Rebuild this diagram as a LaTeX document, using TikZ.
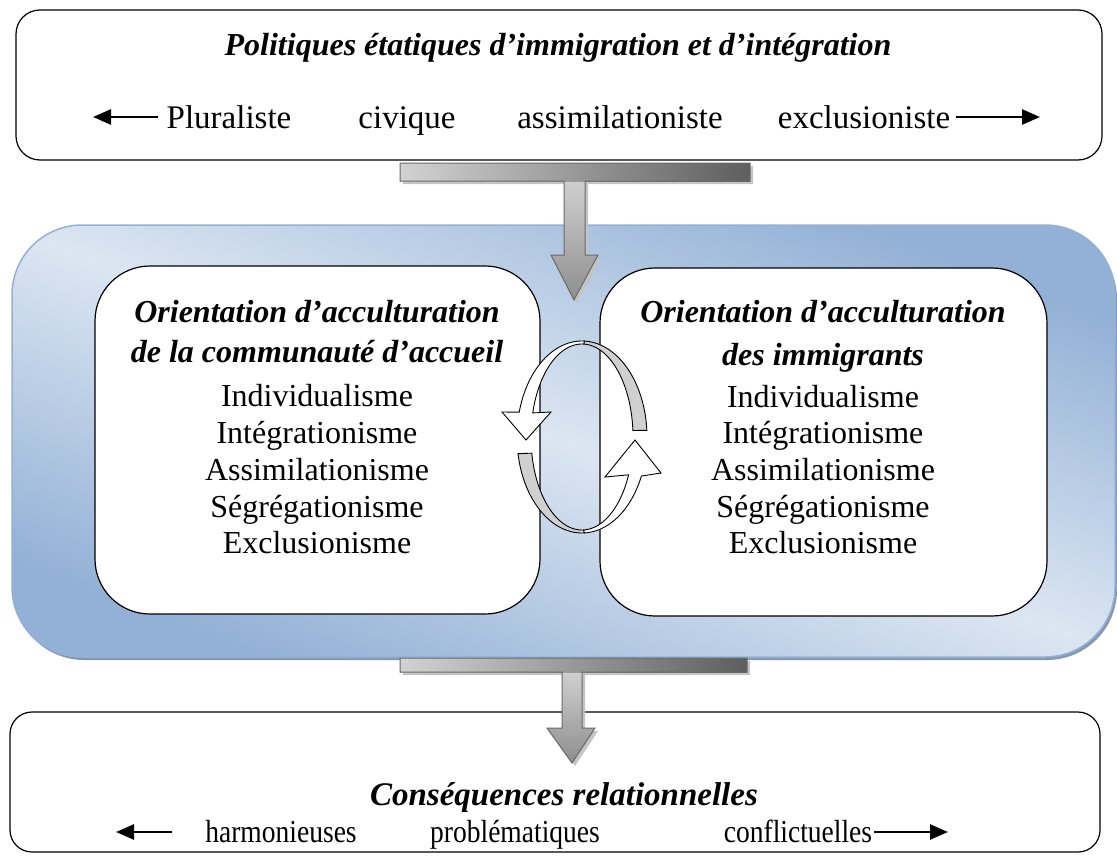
\documentclass[tikz,border=0pt]{standalone}
\usepackage{fontspec}
\setmainfont{Liberation Serif}
\usetikzlibrary{arrows.meta}
\definecolor{bdark}{HTML}{93B1D6}
\definecolor{blight}{HTML}{DCE6F2}
\definecolor{bshadow}{HTML}{8797AE}
\definecolor{ribgray}{HTML}{D0D0D0}
\definecolor{tlight}{HTML}{D2D2D2}
\definecolor{tdark}{HTML}{5E5E5E}
\definecolor{tstemtop}{HTML}{D0D0D0}
\definecolor{tstembot}{HTML}{8E8E8E}
\definecolor{tline}{HTML}{6A6A6A}
\definecolor{tshadow}{HTML}{C4C4C4}
\begin{document}
\begin{tikzpicture}[x=1pt,y=-1pt,
  outerbox/.style={draw=black, line width=1.2pt, fill=white, rounded corners=24pt, inner sep=0pt},
  innerbox/.style={draw=black, line width=1.2pt, fill=white, rounded corners=55pt, inner sep=0pt},
  ribbon/.style={draw=black, line width=0.9pt},
  txt/.style={font=\fontsize{32}{38}\selectfont, anchor=base, inner sep=0pt},
  ttl/.style={font=\fontsize{32}{38}\selectfont\bfseries\itshape, anchor=base, inner sep=0pt},
  rowtxt/.style={font=\fontsize{33}{38}\selectfont, anchor=base, inner sep=0pt},
  condtxt/.style={font=\fontsize{32}{38}\selectfont, anchor=base, inner sep=0pt, xscale=0.86},
  harrow/.style={line width=2.6pt, -{Triangle[length=18pt,width=15pt]}},
  tshape/.style={draw=tline, line width=1pt, line join=miter}
]
\useasboundingbox (0,0) rectangle (1117,862);

% ---------- top box ----------
\node[outerbox, minimum width=1086pt, minimum height=150pt] (topbox) at (559,85) {};
\node[ttl] (toptitle) at (558,55) {Politiques étatiques d’immigration et d’intégration};
\node[rowtxt] (plur) at (229,128) {Pluraliste};
\node[rowtxt] (civ) at (407,128) {civique};
\node[rowtxt] (assim) at (620,128) {assimilationiste};
\node[rowtxt] (excl) at (864,128) {exclusioniste};
\coordinate (tl1) at (158,117); \coordinate (tl2) at (93,117);
\coordinate (tr1) at (956,117); \coordinate (tr2) at (1040,117);
\draw[harrow] (tl1) -- (tl2);
\draw[harrow] (tr1) -- (tr2);

% ---------- middle blue box ----------
\fill[bshadow, rounded corners=70pt] (14,229) rectangle (1117,660);
\node[minimum width=1103pt, minimum height=432pt, rounded corners=70pt, inner sep=0pt,
      draw=bdark, line width=1.5pt,
      top color=bdark, bottom color=bdark, middle color=blight, shading angle=-21] (midbox) at (563.5,441) {};

% ---------- inner boxes ----------
\node[innerbox, minimum width=445pt, minimum height=348pt] (leftbox) at (317.5,440) {};
\node[innerbox, minimum width=447pt, minimum height=348pt] (rightbox) at (823.5,442) {};

\node[ttl] (l1) at (317,322) {Orientation d’acculturation};
\node[ttl] (l2) at (317,362) {de la communauté d’accueil};
\node[txt] (l3) at (317,406) {Individualisme};
\node[txt] (l4) at (317,443) {Intégrationisme};
\node[txt] (l5) at (317,480) {Assimilationisme};
\node[txt] (l6) at (317,517) {Ségrégationisme};
\node[txt] (l7) at (317,553) {Exclusionisme};

\node[ttl] (r1) at (823,322) {Orientation d’acculturation};
\node[ttl] (r2) at (823,365) {des immigrants};
\node[txt] (r3) at (823,407) {Individualisme};
\node[txt] (r4) at (823,443) {Intégrationisme};
\node[txt] (r5) at (823,480) {Assimilationisme};
\node[txt] (r6) at (823,517) {Ségrégationisme};
\node[txt] (r7) at (823,553) {Exclusionisme};

% ---------- circular ribbons ----------
\draw[ribbon, fill=ribgray] plot[domain=4:88, samples=40] ({582+65*cos(\x)},{437-96*sin(\x)})
   -- plot[domain=88:4, samples=40] ({582+51*cos(\x)},{437-93*sin(\x)}) -- cycle;
\draw[ribbon, fill=white] plot[domain=88:165, samples=40] ({582+65*cos(\x)},{437-96*sin(\x)})
   -- (502,412) -- (526,440) -- (551,412)
   -- plot[domain=165:88, samples=40] ({582+51*cos(\x)},{437-93*sin(\x)}) -- cycle;
\draw[ribbon, fill=ribgray] plot[domain=190:272, samples=40] ({582+65*cos(\x)},{437-96*sin(\x)})
   -- plot[domain=272:190, samples=40] ({582+51*cos(\x)},{437-93*sin(\x)}) -- cycle;
\draw[ribbon, fill=white] plot[domain=272:336, samples=40] ({582+65*cos(\x)},{437-96*sin(\x)})
   -- (661,473) -- (635,440) -- (605,477)
   -- plot[domain=336:272, samples=40] ({582+51*cos(\x)},{437-93*sin(\x)}) -- cycle;

% ---------- top T arrow ----------
\fill[tshadow, shift={(3,3)}] (400,163) -- (750,163) -- (750,181) -- (585,181) -- (585,255) -- (598,255)
   -- (574,300) -- (551,255) -- (564,255) -- (564,181) -- (400,181) -- cycle;
\shade[top color=tstemtop, bottom color=tstembot] (564,180) -- (585,180) -- (585,255) -- (598,255)
   -- (574,300) -- (551,255) -- (564,255) -- cycle;
\shade[left color=tlight, right color=tdark] (400,163) rectangle (750,181);
\draw[tshape] (400,163) -- (750,163) -- (750,181) -- (585,181) -- (585,255) -- (598,255)
   -- (574,300) -- (551,255) -- (564,255) -- (564,181) -- (400,181) -- cycle;

% ---------- bottom box ----------
\node[outerbox, minimum width=1090pt, minimum height=140pt, rounded corners=22pt] (botbox) at (555,782) {};
\node[ttl, font=\fontsize{33}{38}\selectfont\bfseries\itshape] (bottitle) at (564,805) {Conséquences relationnelles};
\node[condtxt] (harm) at (281,842) {harmonieuses};
\node[condtxt] (prob) at (515,842) {problématiques};
\node[condtxt] (conf) at (798,842) {conflictuelles};
\coordinate (bl1) at (172,832); \coordinate (bl2) at (116,832);
\coordinate (br1) at (874,832); \coordinate (br2) at (948,832);
\draw[harrow] (bl1) -- (bl2);
\draw[harrow] (br1) -- (br2);

% ---------- bottom T arrow ----------
\fill[tshadow, shift={(3,3)}] (400,658) -- (747,658) -- (747,672) -- (582,672) -- (582,728) -- (595,728)
   -- (572,763) -- (547,728) -- (562,728) -- (562,672) -- (400,672) -- cycle;
\shade[top color=tstemtop, bottom color=tstembot] (562,671) -- (582,671) -- (582,728) -- (595,728)
   -- (572,763) -- (547,728) -- (562,728) -- cycle;
\shade[left color=tlight, right color=tdark] (400,658) rectangle (747,672);
\draw[tshape] (400,658) -- (747,658) -- (747,672) -- (582,672) -- (582,728) -- (595,728)
   -- (572,763) -- (547,728) -- (562,728) -- (562,672) -- (400,672) -- cycle;
\end{tikzpicture}
\end{document}
